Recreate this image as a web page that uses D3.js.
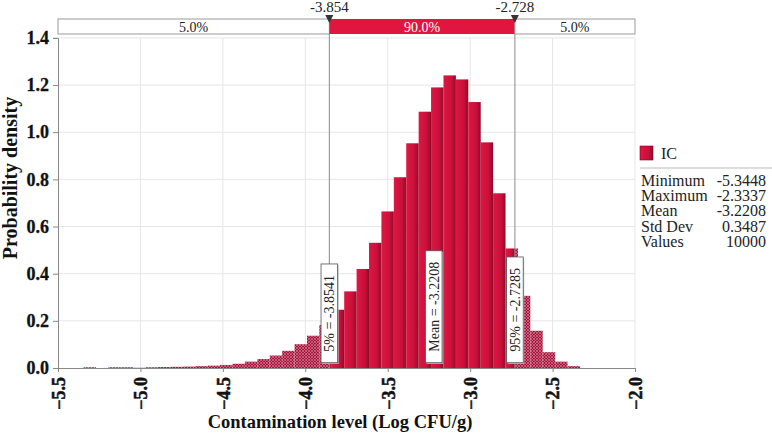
<!DOCTYPE html>
<html><head><meta charset="utf-8">
<script src="https://cdn.jsdelivr.net/npm/d3@7"></script>
<style>body{margin:0;background:#fff}svg{display:block}text{font-family:"Liberation Serif","Times New Roman",serif}</style>
</head><body><svg id="c" width="772" height="436"></svg>
<script>
// ---- data ----
const dataMin = -5.3448, dataMax = -2.3337;
const densities = [0.003,0.000,0.003,0.003,0.001,0.003,0.004,0.005,0.006,0.008,
  0.010,0.013,0.018,0.027,0.038,0.053,0.073,0.101,0.137,0.182,
  0.247,0.325,0.420,0.531,0.664,0.809,0.953,1.087,1.190,1.241,
  1.224,1.128,0.957,0.741,0.507,0.306,0.158,0.067,0.027,0.008];
const p5 = -3.8541, p95 = -2.7285, meanVal = -3.2208;
const bandLabels = ["5.0%","90.0%","5.0%"];
const markerLabels = ["-3.854","-2.728"];
const xTicks = [-5.5,-5.0,-4.5,-4.0,-3.5,-3.0,-2.5,-2.0];
const yTicks = [0,0.2,0.4,0.6,0.8,1.0,1.2,1.4];
const statNames = ["Minimum","Maximum","Mean","Std Dev","Values"];
const statValues = ["-5.3448","-2.3337","-3.2208","0.3487","10000"];
const seriesName = "IC";

const svg = d3.select("#c");
const x = d3.scaleLinear().domain([-5.5,-2.0]).range([58,635]);
const y = d3.scaleLinear().domain([0,1.4]).range([368,37.9]);

const defs = svg.append("defs");
const g1 = defs.append("linearGradient").attr("id","barg").attr("x1","0").attr("x2","1").attr("y1","0").attr("y2","0");
g1.append("stop").attr("offset","0").attr("stop-color","#dc1743");
g1.append("stop").attr("offset","0.65").attr("stop-color","#c9103a");
g1.append("stop").attr("offset","1").attr("stop-color","#920a28");
const pat = defs.append("pattern").attr("id","hatch").attr("width",3).attr("height",3).attr("patternUnits","userSpaceOnUse");
pat.append("rect").attr("width",3).attr("height",3).attr("fill","#a3173c");
pat.append("path").attr("d","M0,3L3,0M0,0L3,3").attr("stroke","#d77590").attr("stroke-width",0.7);

// grid
const grid = svg.append("g");
grid.selectAll("line.v").data(xTicks.slice(1)).join("line")
  .attr("x1",d=>x(d)).attr("x2",d=>x(d)).attr("y1",y(1.4)).attr("y2",y(0))
  .attr("stroke","#e6e6e6");
grid.selectAll("line.h").data(yTicks.slice(1)).join("line")
  .attr("x1",x(-5.5)).attr("x2",x(-2.0)).attr("y1",d=>y(d)).attr("y2",d=>y(d))
  .attr("stroke","#e6e6e6");

// bars
const bw = (dataMax-dataMin)/densities.length;
const bins = densities.map((v,i)=>({x0:dataMin+i*bw,x1:dataMin+(i+1)*bw,v}));
const pieces = [];
bins.forEach(b=>{
  const segs = [[b.x0,Math.min(b.x1,p5),"out"],[Math.max(b.x0,p5),Math.min(b.x1,p95),"in"],[Math.max(b.x0,p95),b.x1,"out"]];
  segs.forEach(s=>{ if(s[1]>s[0]) pieces.push({a:s[0],b:s[1],t:s[2],v:b.v}); });
});
svg.append("g").selectAll("rect").data(pieces.filter(p=>p.v>0)).join("rect")
  .attr("x",p=>x(p.a)).attr("width",p=>x(p.b)-x(p.a))
  .attr("y",p=>y(p.v)).attr("height",p=>y(0)-y(p.v))
  .attr("fill",p=>p.t==="in"?"url(#barg)":"url(#hatch)");

// axes
const ax = svg.append("g").attr("transform",`translate(0,${y(0)})`)
  .call(d3.axisBottom(x).tickValues(xTicks).tickFormat(d3.format(".1f")).tickSizeOuter(0).tickSize(4));
ax.select(".domain").attr("stroke","#888");
ax.selectAll(".tick line").attr("stroke","#888");
ax.selectAll(".tick text").attr("transform","rotate(-90)").attr("x",-9).attr("y",0).attr("dy","0.35em")
  .attr("text-anchor","end").attr("fill","#111").attr("stroke","#111").attr("stroke-width",0.5)
  .style("font-family","'Liberation Serif','Times New Roman',serif").style("font-size","18px").style("font-weight","bold");
const ay = svg.append("g").attr("transform",`translate(${x(-5.5)},0)`)
  .call(d3.axisLeft(y).tickValues(yTicks).tickFormat(d3.format(".1f")).tickSizeOuter(0).tickSize(5));
ay.select(".domain").attr("stroke","#888");
ay.selectAll(".tick line").attr("stroke","#888");
ay.selectAll(".tick text").attr("x",-9).attr("fill","#111").attr("stroke","#111").attr("stroke-width",0.3)
  .style("font-family","'Liberation Serif','Times New Roman',serif").style("font-size","18px").style("font-weight","bold");

svg.append("text").attr("transform","translate(17,178) rotate(-90)").attr("text-anchor","middle")
  .style("font-size","20px").style("font-weight","bold").attr("fill","#111").text("Probability density");
svg.append("text").attr("x",340).attr("y",428).attr("text-anchor","middle")
  .style("font-size","18.5px").style("font-weight","bold").attr("fill","#111").text("Contamination level (Log CFU/g)");

// percentile lines
[p5,p95].forEach(p=>{
  svg.append("line").attr("x1",x(p)).attr("x2",x(p)).attr("y1",34).attr("y2",y(0)).attr("stroke","#8a8a8a");
});

// top band
const bandEdges = [-5.5,p5,p95,-2.0];
const band = svg.append("g");
bandLabels.forEach((lab,i)=>{
  const a=x(bandEdges[i]), b=x(bandEdges[i+1]);
  band.append("rect").attr("x",a).attr("y",19).attr("width",b-a).attr("height",15)
    .attr("fill",i===1?"#e1163f":"#fff").attr("stroke",i===1?"none":"#9a9a9a");
  band.append("text").attr("x",(a+b)/2).attr("y",31.5).attr("text-anchor","middle").style("font-size","14px")
    .attr("fill",i===1?"#fff":"#222").text(lab);
});
[p5,p95].forEach((p,i)=>{
  const px=x(p);
  band.append("path").attr("d",`M${px-4},15L${px+4},15L${px},23Z`).attr("fill","#333");
  band.append("text").attr("x",px).attr("y",12).attr("text-anchor","middle").style("font-size","15px").attr("fill","#222").text(markerLabels[i]);
});

// rotated value boxes
const boxes = [[p5,"5% = "+p5.toFixed(4)],[meanVal,"Mean = "+meanVal.toFixed(4)],[p95,"95% = "+p95.toFixed(4)]];
boxes.forEach(([v,t])=>{
  const g = svg.append("g").attr("transform",`translate(${x(v)},362.7) rotate(-90)`);
  const sh = g.append("rect").attr("fill","#bbb");
  const r = g.append("rect").attr("fill","#fff").attr("stroke","#555").attr("stroke-width",0.8);
  const tx = g.append("text").style("font-size","14px").attr("fill","#222").attr("text-anchor","middle").attr("dy","0.35em").text(t);
  const L = tx.node().getComputedTextLength()+22;
  tx.attr("x",L/2);
  r.attr("x",0).attr("y",-8.3).attr("width",L).attr("height",16.6);
  sh.attr("x",-1.2).attr("y",-7.3).attr("width",L).attr("height",16.6);
});

// legend
svg.append("rect").attr("x",640).attr("y",146).attr("width",13).attr("height",14).attr("fill","url(#barg)").attr("stroke","#7a0a22").attr("stroke-width",0.6);
svg.append("text").attr("x",661).attr("y",158.5).style("font-size","16px").attr("fill","#222").text(seriesName);
svg.append("line").attr("x1",640).attr("x2",772).attr("y1",168).attr("y2",168).attr("stroke","#bbb");
statNames.forEach((n,i)=>{
  const yy = 185.5 + i*15.4;
  svg.append("text").attr("x",641).attr("y",yy).style("font-size","16px").attr("fill","#222").text(n);
  svg.append("text").attr("x",766).attr("y",yy).attr("text-anchor","end").style("font-size","16px").attr("fill","#222").text(statValues[i]);
});
</script></body></html>
